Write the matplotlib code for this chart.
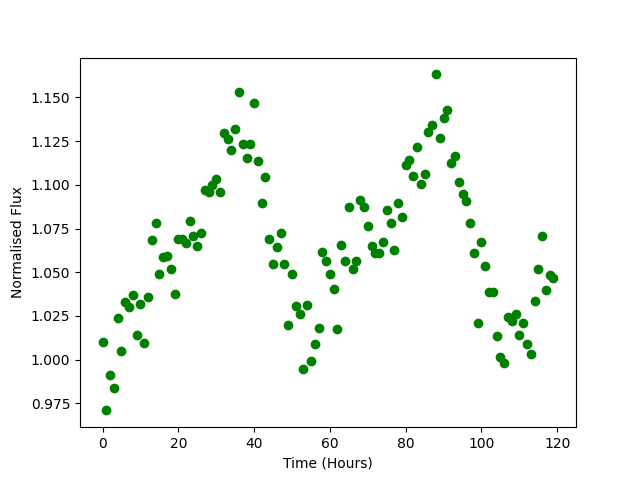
import matplotlib
matplotlib.use("Agg")
import matplotlib.pyplot as plt
import numpy as np

# hourly samples, 0..119
time_hours = np.arange(120)

flux = [
    1.0104, 0.9710, 0.9915, 0.9840, 1.0240, 1.0050, 1.0330, 1.0300, 1.0370, 1.0144,
    1.0320, 1.0097, 1.0360, 1.0686, 1.0783, 1.0493, 1.0589, 1.0595, 1.0520, 1.0377,
    1.0692, 1.0692, 1.0665, 1.0795, 1.0705, 1.0653, 1.0726, 1.0968, 1.0958, 1.0998,
    1.1035, 1.0961, 1.1296, 1.1264, 1.1197, 1.1321, 1.1534, 1.1235, 1.1155, 1.1235,
    1.1470, 1.1138, 1.0898, 1.1046, 1.0692, 1.0545, 1.0646, 1.0722, 1.0545, 1.0201,
    1.0493, 1.0308, 1.0263, 0.9948, 1.0314, 0.9990, 1.0087, 1.0184, 1.0617, 1.0566,
    1.0493, 1.0406, 1.0177, 1.0657, 1.0562, 1.0875, 1.0520, 1.0562, 1.0916, 1.0875,
    1.0762, 1.0653, 1.0608, 1.0608, 1.0676, 1.0854, 1.0783, 1.0630, 1.0898, 1.0814,
    1.1115, 1.1140, 1.1048, 1.1218, 1.1006, 1.1060, 1.1300, 1.1340, 1.1632, 1.1270,
    1.1384, 1.1430, 1.1126, 1.1166, 1.1018, 1.0945, 1.0905, 1.0783, 1.0608, 1.0211,
    1.0674, 1.0537, 1.0390, 1.0390, 1.0133, 1.0018, 0.9982, 1.0247, 1.0224, 1.0259,
    1.0142, 1.0211, 1.0091, 1.0030, 1.0333, 1.0520, 1.0710, 1.0396, 1.0487, 1.0466,
]

fig = plt.figure(figsize=(6.4, 4.8), dpi=100)
plt.plot(time_hours, flux, "o", color="green")
plt.xlabel("Time (Hours)")
plt.ylabel("Normalised Flux")
plt.savefig("out.png", dpi=100)
